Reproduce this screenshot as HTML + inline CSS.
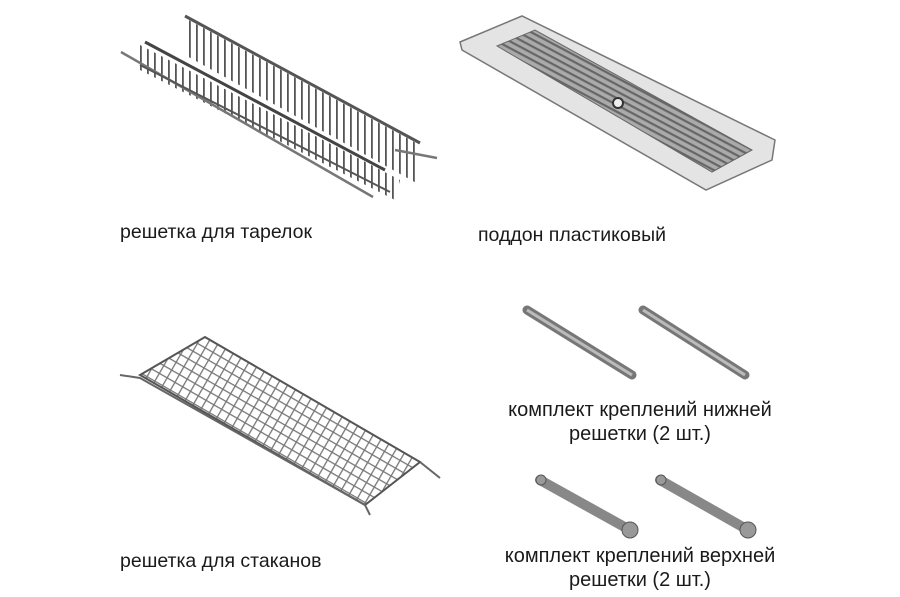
<!DOCTYPE html>
<html><head><meta charset="utf-8"><style>
html,body{margin:0;padding:0;background:#fff;}
body{width:900px;height:597px;position:relative;overflow:hidden;font-family:"Liberation Sans",sans-serif;}
.t{position:absolute;font-size:19.5px;color:#1a1a1a;white-space:nowrap;}
.c{text-align:center;width:360px;line-height:24px;font-size:20px;}
svg{position:absolute;left:0;top:0;}
</style></head><body>
<svg width="900" height="597" viewBox="0 0 900 597">
<defs>
<pattern id="v" width="7" height="7" patternUnits="userSpaceOnUse"><rect x="0" y="0" width="1.8" height="7" fill="#555"/></pattern>
<pattern id="g" width="9" height="9" patternUnits="userSpaceOnUse" patternTransform="rotate(30)"><rect x="0" y="0" width="1.3" height="9" fill="#777"/><rect x="0" y="0" width="9" height="1.3" fill="#777"/></pattern>
<pattern id="s" width="6" height="6" patternUnits="userSpaceOnUse" patternTransform="rotate(28)"><rect width="6" height="6" fill="#aaa"/><rect x="0" y="0" width="6" height="2.2" fill="#666"/></pattern>
</defs>
<polygon points="185,18 420,145 420,185 185,55" fill="url(#v)"/>
<polygon points="140,45 400,180 395,200 140,70" fill="url(#v)"/>
<polyline points="185,16 420,143" stroke="#555" stroke-width="3" fill="none"/>
<polyline points="145,42 385,170" stroke="#444" stroke-width="3" fill="none"/>
<polyline points="121,52 373,197" stroke="#777" stroke-width="2.5" fill="none"/>
<polyline points="395,150 437,158" stroke="#777" stroke-width="2.5" fill="none"/>
<polyline points="140,65 390,192" stroke="#555" stroke-width="2" fill="none"/>
<polygon points="460,42 522,16 775,140 772,160 706,190 462,50" fill="#e4e4e4" stroke="#777" stroke-width="1.5"/>
<polygon points="497,46 535,30 752,150 712,172" fill="url(#s)" stroke="#666"/>
<circle cx="618" cy="103" r="5" fill="#eee" stroke="#333" stroke-width="2"/>
<polygon points="140,375 205,337 420,462 365,505" fill="url(#g)" stroke="#555" stroke-width="2"/>
<polyline points="120,375 140,378 365,505 370,515" stroke="#666" stroke-width="2" fill="none"/>
<polyline points="420,462 440,478" stroke="#666" stroke-width="2" fill="none"/>
<g stroke="#777" stroke-width="9" stroke-linecap="round" fill="none">
<line x1="527" y1="310" x2="632" y2="375"/>
<line x1="643" y1="310" x2="745" y2="375"/>
</g>
<g stroke="#bbb" stroke-width="3" fill="none">
<line x1="527" y1="310" x2="632" y2="375"/>
<line x1="643" y1="310" x2="745" y2="375"/>
</g>
<g stroke="#888" stroke-width="10" stroke-linecap="round" fill="none">
<line x1="540" y1="480" x2="630" y2="530"/>
<line x1="660" y1="480" x2="748" y2="530"/>
</g>
<circle cx="630" cy="530" r="8" fill="#999" stroke="#555"/>
<circle cx="748" cy="530" r="8" fill="#999" stroke="#555"/>
<circle cx="541" cy="480" r="5" fill="#999" stroke="#555"/>
<circle cx="661" cy="480" r="5" fill="#999" stroke="#555"/>
</svg>
<div class="t" style="left:120px;top:221px;">решетка для тарелок</div>
<div class="t" style="left:478px;top:224px;">поддон пластиковый</div>
<div class="t" style="left:120px;top:550px;">решетка для стаканов</div>
<div class="t c" style="left:460px;top:398px;">комплект креплений нижней<br>решетки (2 шт.)</div>
<div class="t c" style="left:460px;top:544px;">комплект креплений верхней<br>решетки (2 шт.)</div>
</body></html>
